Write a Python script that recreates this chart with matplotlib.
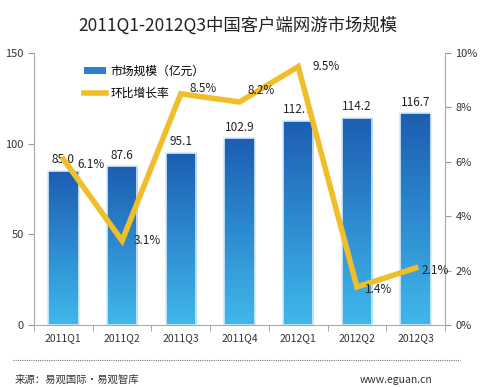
import matplotlib.pyplot as plt
import numpy as np
from matplotlib.lines import Line2D
from matplotlib.patches import Patch
from matplotlib.colors import LinearSegmentedColormap

plt.rcParams['font.family'] = ['Noto Sans CJK SC', 'DejaVu Sans']

quarters = ['2011Q1', '2011Q2', '2011Q3', '2011Q4', '2012Q1', '2012Q2', '2012Q3']
market = [85.0, 87.6, 95.1, 102.9, 112.7, 114.2, 116.7]
growth = [6.1, 3.1, 8.5, 8.2, 9.5, 1.4, 2.1]
growth_labels = ['6.1%', '3.1%', '8.5%', '8.2%', '9.5%', '1.4%', '2.1%']

gold = '#F0BE2A'
grad = LinearSegmentedColormap.from_list('bars', ['#40B8EC', '#1C5DB2'])

fig = plt.figure(figsize=(5, 3.87), dpi=100)
ax = fig.add_axes([0.068, 0.160, 0.822, 0.703])
x = np.arange(len(quarters))

bars = ax.bar(x, market, width=0.52, color='none', edgecolor='#d5ecf8', linewidth=1.2, zorder=2)
g = np.linspace(0, 1, 256).reshape(-1, 1)
for b in bars:
    x0, w, h = b.get_x(), b.get_width(), b.get_height()
    im = ax.imshow(g, cmap=grad, aspect='auto', origin='lower',
                   extent=[x0, x0 + w, 0, h], zorder=1, interpolation='bicubic')
    im.set_clip_path(b)

for xi, v in zip(x, market):
    ax.text(xi, v + 2.5, f'{v:.1f}', ha='center', va='bottom', fontsize=8.5, color='#222222', zorder=5)

ax.set_xlim(-0.5, len(quarters) - 0.5)
ax.set_ylim(0, 150)
ax.set_yticks([0, 50, 100, 150])
ax.set_xticks(x)
ax.set_xticklabels(quarters, fontsize=7.5, color='#333333')
ax.set_xticks(np.arange(-0.5, len(quarters)), minor=True)
ax.tick_params(axis='x', which='major', length=0, pad=6)
ax.tick_params(axis='x', which='minor', length=4, color='#999999')
ax.tick_params(axis='y', labelsize=8, colors='#333333', length=4, color='#999999')
for s in ['top', 'right']:
    ax.spines[s].set_visible(False)
for s in ['left', 'bottom']:
    ax.spines[s].set_color('#aaaaaa')

ax2 = ax.twinx()
ax2.plot(x, growth, color=gold, linewidth=4, solid_joinstyle='miter', zorder=4)
ax2.set_ylim(0, 10)
ax2.set_yticks([0, 2, 4, 6, 8, 10])
ax2.set_yticklabels(['0%', '2%', '4%', '6%', '8%', '10%'])
ax2.tick_params(axis='y', labelsize=8, colors='#333333', length=4, color='#999999')
for s in ['top', 'left', 'bottom']:
    ax2.spines[s].set_visible(False)
ax2.spines['right'].set_color('#aaaaaa')

offsets = [(10, -4), (8, 0), (6, 4), (6, 8), (10, 0), (6, -2), (4, -2)]
for xi, v, lab, off in zip(x, growth, growth_labels, offsets):
    ax2.annotate(lab, (xi, v), xytext=off, textcoords='offset points',
                 ha='left', va='center', fontsize=8.5, color='#222222', zorder=6)

handles = [Patch(facecolor='#2a7fd0', edgecolor='none'),
           Line2D([0], [0], color=gold, linewidth=4)]
ax2.legend(handles, ['市场规模（亿元）', '环比增长率'], loc='upper left',
           bbox_to_anchor=(0.095, 0.995), frameon=False, fontsize=8.5,
           handlelength=1.9, handleheight=0.5, handletextpad=0.4, labelspacing=0.75)

fig.text(0.475, 0.935, '2011Q1-2012Q3中国客户端网游市场规模', ha='center', va='center',
         fontsize=12.5, color='#222222')
fig.add_artist(Line2D([0.026, 0.92], [0.07, 0.07], color='#777777', linewidth=0.8,
                      linestyle=(0, (1, 1)), transform=fig.transFigure))
fig.text(0.03, 0.018, '来源：易观国际·易观智库', ha='left', va='center', fontsize=7.5, color='#333333')
fig.text(0.72, 0.018, 'www.eguan.cn', ha='left', va='center', fontsize=7.5, color='#333333')

fig.savefig('out.png', dpi=100)
